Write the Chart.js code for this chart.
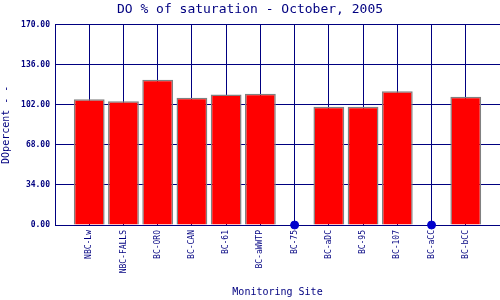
<!DOCTYPE html>
<html>
<head>
<meta charset="utf-8">
<script src="https://cdn.jsdelivr.net/npm/chart.js@4/dist/chart.umd.min.js"></script>
<style>
  body { margin: 0; background: #fff; }
  #wrap { width: 500px; height: 300px; }
</style>
</head>
<body>
<div id="wrap"><canvas id="doChart" width="500" height="300"></canvas></div>
<script>
const sites = ['NBC-Lw', 'NBC-FALLS', 'BC-ORO', 'BC-CAN', 'BC-61', 'BC-aWWTP',
    'BC-75', 'BC-aDC', 'BC-95', 'BC-107', 'BC-aCC', 'BC-bCC'];
// null = no reading (drawn as a dot on the zero line)
const doPercent = [106.6, 104.9, 123.2, 108.0, 110.6, 111.4,
    null, 100.4, 100.4, 113.4, null, 108.8];
const yTicks = [0, 34, 68, 102, 136, 170];

const navy = '#000080';
const mono = 'DejaVu Sans Mono';

// blank slot at each end so the sites sit on interior grid lines
const labels = [''].concat(sites, ['']);
const barData = [null].concat(doPercent, [null]);
const dotData = [null].concat(doPercent.map(function (v) { return v === null ? 0 : null; }), [null]);

const ctx = document.getElementById('doChart').getContext('2d');
const doChart = new Chart(ctx, {
    type: 'bar',
    data: {
        labels: labels,
        datasets: [{
            label: 'DO %',
            data: barData,
            backgroundColor: '#ff0000',
            borderColor: '#808080',
            borderWidth: 1.5,
            barPercentage: 0.9,
            categoryPercentage: 1,
            order: 2
        }, {
            type: 'line',
            label: 'missing',
            data: dotData,
            showLine: false,
            clip: false,
            pointRadius: 4,
            pointBackgroundColor: '#0000cc',
            pointBorderColor: '#0000cc',
            order: 1
        }]
    },
    options: {
        responsive: false,
        animation: false,
        layout: { padding: 0, autoPadding: false },
        plugins: {
            legend: { display: false },
            tooltip: { enabled: false },
            title: {
                display: true,
                text: 'DO % of saturation - October, 2005',
                color: navy,
                font: { family: mono, size: 13, weight: 'normal' },
                padding: { top: 2, bottom: 7 }
            }
        },
        scales: {
            x: {
                offset: false,
                grid: { color: navy, lineWidth: 1, drawTicks: false, offset: false },
                border: { color: navy, width: 1 },
                ticks: {
                    color: navy,
                    font: { family: mono, size: 8 },
                    minRotation: 90,
                    maxRotation: 90,
                    autoSkip: false,
                    padding: 5
                },
                title: {
                    display: true,
                    text: 'Monitoring Site',
                    color: navy,
                    font: { family: mono, size: 10 },
                    padding: { top: 0, bottom: 2 }
                },
                afterFit: function (scale) {
                    scale.height = 75;
                    scale.paddingLeft = 0;
                    scale.paddingRight = 0;
                }
            },
            y: {
                min: 0,
                max: 170,
                afterBuildTicks: function (scale) {
                    scale.ticks = yTicks.map(function (v) { return { value: v }; });
                },
                grid: { color: navy, lineWidth: 1, drawTicks: false },
                border: { color: navy, width: 1 },
                ticks: {
                    color: navy,
                    font: { family: mono, size: 8, weight: 'bold' },
                    padding: 5,
                    callback: function (v) { return Number(v).toFixed(2); }
                },
                title: {
                    display: true,
                    text: 'DOpercent - -',
                    color: navy,
                    font: { family: mono, size: 10 },
                    padding: { top: 0, bottom: 2 }
                },
                afterFit: function (scale) {
                    scale.width = 55;
                    scale.paddingTop = 0;
                    scale.paddingBottom = 0;
                }
            }
        }
    }
});
</script>
</body>
</html>
